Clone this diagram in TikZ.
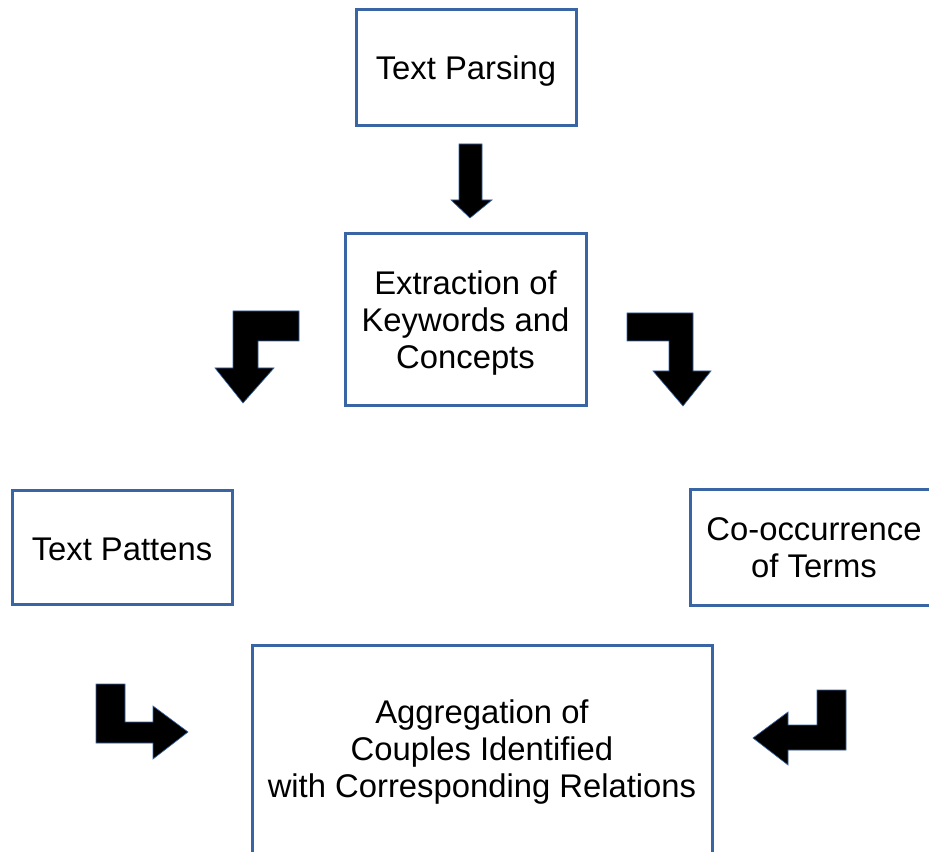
\documentclass[tikz,border=0pt]{standalone}
\usepackage{fontspec}
\setmainfont{Liberation Sans}
\definecolor{boxblue}{RGB}{58,101,164}
\begin{document}
\begin{tikzpicture}[x=0.75pt,y=-0.75pt,
  stage/.style={draw=boxblue,line width=2.25pt,fill=white,rectangle,inner sep=0pt},
  caption/.style={inner sep=0pt,align=center,font=\fontsize{24.6}{27.75}\selectfont},
  blockarrow/.style={fill=black,draw=boxblue,line width=0.5pt,line join=miter}]
\useasboundingbox (0,0) rectangle (929,852);
\clip (0,0) rectangle (929,852);

% process stages
\node[stage,minimum width=165pt,minimum height=87pt] (parse) at (466,68) {};
\node[stage,minimum width=180.75pt,minimum height=129pt] (extract) at (465.5,320) {};
\node[stage,minimum width=165pt,minimum height=85.5pt] (pattern) at (122,547) {};
\node[stage,minimum width=186pt,minimum height=87pt] (cooc) at (814,547) {};
\node[stage,minimum width=345pt,minimum height=157.5pt] (aggr) at (482,750) {};

% stage captions, set a little below each box centre
\node[caption] (parse-t) at ([yshift=-2.25pt]parse.center) {Text Parsing};
\node[caption] (extract-t) at ([yshift=-2.25pt]extract.center)
  {Extraction of\\Keywords and\\Concepts};
\node[caption] (pattern-t) at ([yshift=-1.5pt]pattern.center) {Text Pattens};
\node[caption] (cooc-t) at ([yshift=-0.75pt]cooc.center) {Co-occurrence\\of Terms};
\node[caption] (aggr-t) at ([yshift=-1.5pt]aggr.center)
  {Aggregation of\\Couples Identified\\with Corresponding Relations};

% block arrows between the stages
\filldraw[blockarrow] (459,144) -- (482,144) -- (482,200) -- (492,200) -- (470,218)
  -- (451,200) -- (459,200) -- cycle;
\filldraw[blockarrow] (299,311) -- (233,311) -- (233,368) -- (215,368) -- (243,403)
  -- (274,368) -- (258,368) -- (258,341) -- (299,341) -- cycle;
\filldraw[blockarrow] (627,313) -- (693,313) -- (693,371) -- (711,371) -- (683,406)
  -- (653,371) -- (669,371) -- (669,341) -- (627,341) -- cycle;
\filldraw[blockarrow] (96,684) -- (125,684) -- (125,722) -- (153,722) -- (153,706)
  -- (188,732) -- (153,759) -- (153,743) -- (96,743) -- cycle;
\filldraw[blockarrow] (846,690) -- (817,690) -- (817,725) -- (788,725) -- (788,712)
  -- (753,738) -- (788,765) -- (788,750) -- (846,750) -- cycle;
\end{tikzpicture}
\end{document}
